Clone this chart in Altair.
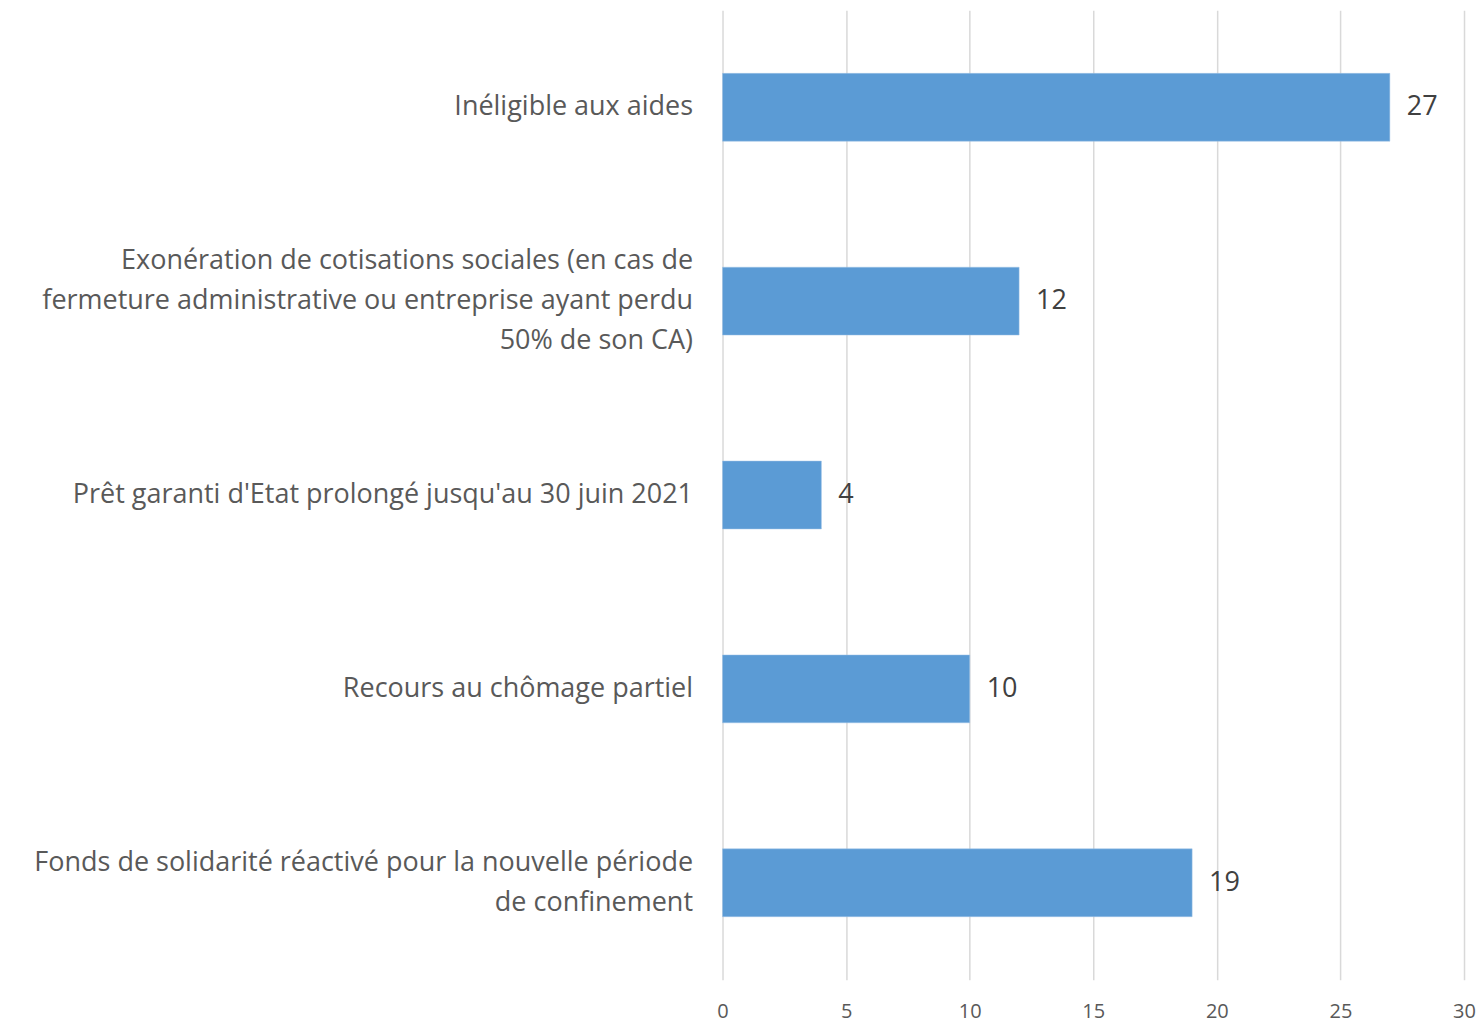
import altair as alt
import pandas as pd

categories = [
    "Inéligible aux aides",
    "Exonération de cotisations sociales (en cas de|fermeture administrative ou entreprise ayant perdu|50% de son CA)",
    "Prêt garanti d'Etat prolongé jusqu'au 30 juin 2021",
    "Recours au chômage partiel",
    "Fonds de solidarité réactivé pour la nouvelle période|de confinement",
]
values = [27, 12, 4, 10, 19]
x_ticks = [0, 5, 10, 15, 20, 25, 30]

df = pd.DataFrame({"cat": categories, "val": values})

FONT = "Open Sans"

y_enc = alt.Y(
    "cat:N",
    sort=categories,
    scale=alt.Scale(paddingInner=0.65, paddingOuter=0.325),
    axis=alt.Axis(
        title=None,
        domain=False,
        ticks=False,
        grid=False,
        labelFont=FONT,
        labelFontSize=27,
        labelColor="#595959",
        labelPadding=30,
        labelLimit=0,
        labelLineHeight=40,
        labelBaseline="middle",
        labelExpr="split(datum.label, '|')",
        labelOffset={"expr": "-(length(split(datum.value, '|')) - 1) * 20"},
        minExtent=715,
        maxExtent=715,
    ),
)

x_enc = alt.X(
    "val:Q",
    scale=alt.Scale(domain=[0, 30], nice=False),
    axis=alt.Axis(
        title=None,
        values=x_ticks,
        domain=False,
        ticks=False,
        grid=True,
        gridColor="#D9D9D9",
        gridWidth=1.5,
        labelFont=FONT,
        labelFontSize=20,
        labelColor="#595959",
        labelPadding=22,
        labelFlush=False,
    ),
)

bars = alt.Chart(df).mark_bar(color="#5B9BD5", stroke="#9DC3E6", strokeWidth=0.5).encode(
    y=y_enc, x=x_enc
)

labels = alt.Chart(df).mark_text(
    align="left", baseline="middle", dx=17, font=FONT, fontSize=27, color="#404040"
).encode(y=alt.Y("cat:N", sort=categories), x=alt.X("val:Q"), text="val:Q")

chart = (
    alt.layer(bars, labels)
    .properties(
        width=742,
        height=970,
        background="white",
        padding={"left": 0, "top": 2, "right": 0, "bottom": 5},
    )
    .configure_view(stroke=None, strokeWidth=0)
)

chart.save("out.html", embed_options={"renderer": "svg", "actions": False})
